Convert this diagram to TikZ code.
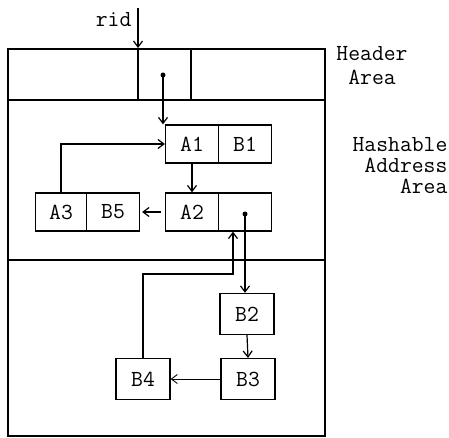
\documentclass[tikz,border=0pt]{standalone}
\usetikzlibrary{calc,arrows.meta}

\begin{document}
\begin{tikzpicture}[x=1pt,y=-1pt,line width=1.2pt,
    cell/.style={draw,minimum width=53pt,minimum height=38pt,inner sep=0pt,
                 font=\fontsize{23}{24}\selectfont\ttfamily},
    rec/.style={cell,minimum width=54pt,minimum height=41pt},
    lbl/.style={font=\fontsize{23}{24}\selectfont\ttfamily,inner sep=0pt},
    arr/.style={-{Straight Barb[length=6pt,width=9pt]}},
    dot/.style={fill=black}]
  \useasboundingbox (0,0) rectangle (449,438);

  % outer frame and the three areas
  \draw (8,49) rectangle (325,436);
  \draw (8,100) -- (325,100);
  \draw (8,260) -- (325,260);
  % header slots
  \draw (138,49) -- (138,100);
  \draw (191,49) -- (191,100);
  \coordinate (hptr) at (163,75);
  \fill[dot] (hptr) circle (2.5pt);

  % area labels
  \node[lbl,align=center] (hdrlbl) at (372,66) {Header\\Area};
  \node[lbl,align=right,anchor=east,font=\fontsize{23}{21}\selectfont\ttfamily]
    (hashlbl) at (448,166) {Hashable\\Address\\Area};

  % rid entry
  \node[lbl,anchor=east] (rid) at (132,20) {rid};
  \coordinate (ridtop) at (138,8);
  \draw[arr] (ridtop) -- (138,48);

  % records in the hashable area
  \node[cell] (a1) at (192,144) {A1};
  \node[cell] (b1) at (245,144) {B1};
  \node[cell] (a2) at (192,212) {A2};
  \node[cell] (a2p) at (245,212) {};
  \node[cell,minimum width=51pt] (a3) at (61,212) {A3};
  \node[cell] (b5) at (113,212) {B5};
  \coordinate (a2dot) at (245,214);
  \fill[dot] (a2dot) circle (2.5pt);

  % overflow records
  \node[rec] (b2) at (247,314) {B2};
  \node[rec] (b3) at (248,379) {B3};
  \node[rec] (b4) at (143,379) {B4};
  \coordinate (bend) at (233,274);

  % chain
  \draw[arr] (hptr) -- (hptr |- a1.north);
  \draw[arr] (a1.south) -- (a2.north);
  \draw[arr,shorten <=4pt,shorten >=2pt] (a2.west) -- (b5.east);
  \draw[arr] (a3.north) |- (a1.west);
  \draw[arr] (a2dot) -- (a2dot |- b2.north);
  \draw[arr] (b2.south) -- (b3.north);
  \draw[arr,line width=0.9pt] (b3.west) -- (b4.east);
  \draw[arr] (b4.north) |- (bend) -- (bend |- a2p.south);
\end{tikzpicture}
\end{document}
